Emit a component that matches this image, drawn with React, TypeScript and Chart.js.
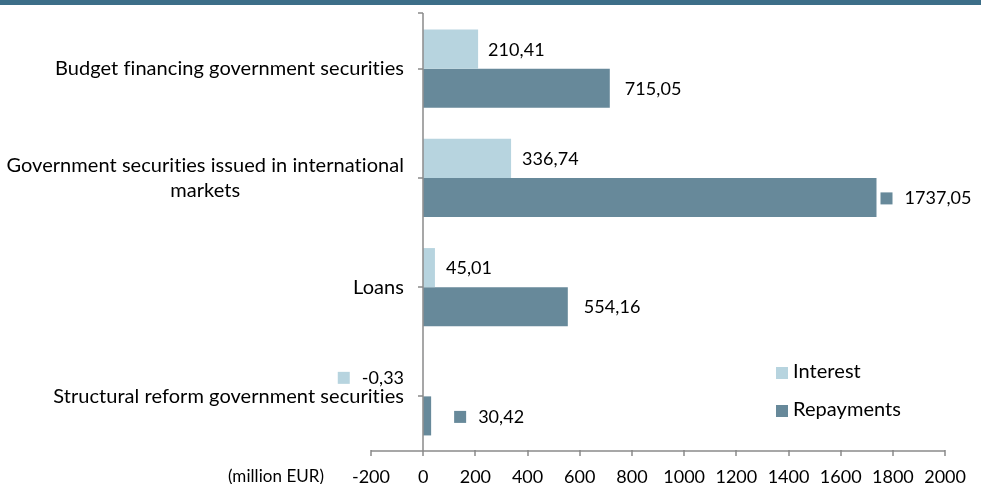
import React, { useEffect, useRef } from 'react';
import { Chart, registerables } from 'chart.js';

Chart.register(...registerables);

// ---- data ----
const categories: string[][] = [
  ['Budget financing government securities'],
  ['Government securities issued in international', 'markets'],
  ['Loans'],
  ['Structural reform government securities'],
];
const seriesNames = ['Interest', 'Repayments'];
const interestValues = [210.41, 336.74, 45.01, -0.33];
const repaymentValues = [715.05, 1737.05, 554.16, 30.42];
const xTickValues = [-200, 0, 200, 400, 600, 800, 1000, 1200, 1400, 1600, 1800, 2000];
const unitLabel = '(million EUR)';

// ---- style ----
const FONT = 'Lato, "Open Sans", sans-serif';
const NUM_SIZE = 18;
const TEXT_SIZE = 20;
const TEXT = '#000000';
const AXIS = '#8a8a8a';
const COLORS = ['#b7d4df', '#67899a'];
const BAND = '#3c6e88';

const fmt = (v: number) => v.toFixed(2).replace('.', ',');

// label placement relative to bar end: dx to text left (or right when align right), key = legend key shown
const placement = [
  [{ dx: 10 }, { dx: 11 }, { dx: 11 }, { dx: -19, right: true, key: true }],
  [{ dx: 15 }, { dx: 28, key: true }, { dx: 16 }, { dx: 47, key: true }],
];

const overlay = {
  id: 'overlay',
  afterDatasetsDraw(chart: any) {
    const ctx: any = chart.ctx;
    const xs = chart.scales.x;
    const ys = chart.scales.y;
    const area = chart.chartArea;
    ctx.save();
    // top band
    ctx.fillStyle = BAND;
    ctx.fillRect(0, 0, chart.width, 5);

    // axes
    ctx.strokeStyle = AXIS;
    ctx.lineWidth = 1.5;
    const x0 = Math.round(xs.getPixelForValue(0));
    const yTop = Math.round(area.top) - 1;
    const yBot = Math.round(area.bottom);
    ctx.beginPath();
    ctx.moveTo(x0, yTop);
    ctx.lineTo(x0, yBot);
    ctx.moveTo(x0 - 5, yTop);
    ctx.lineTo(x0, yTop);
    categories.forEach((_, i) => {
      const y = Math.round(ys.getPixelForValue(i));
      ctx.moveTo(x0 - 5, y);
      ctx.lineTo(x0, y);
    });
    ctx.moveTo(xs.left, yBot);
    ctx.lineTo(xs.right, yBot);
    xTickValues.forEach((v) => {
      const x = Math.round(xs.getPixelForValue(v));
      ctx.moveTo(x, yBot - 1);
      ctx.lineTo(x, yBot + 5);
    });
    ctx.stroke();

    ctx.fillStyle = TEXT;
    ctx.textBaseline = 'middle';
    ctx.letterSpacing = '0.05px';

    // category labels
    ctx.font = `${TEXT_SIZE}px ${FONT}`;
    const rightEdge = x0 - 19;
    const lineH = 25;
    categories.forEach((lines, i) => {
      const cy = ys.getPixelForValue(i);
      const widest = Math.max(...lines.map((l) => ctx.measureText(l).width));
      const cx = rightEdge - widest / 2;
      ctx.textAlign = 'center';
      lines.forEach((l, k) => {
        ctx.fillText(l, cx, cy - ((lines.length - 1) * lineH) / 2 + k * lineH);
      });
    });

    // data labels
    ctx.font = `${NUM_SIZE}px ${FONT}`;
    chart.data.datasets.forEach((ds: any, d: number) => {
      const meta = chart.getDatasetMeta(d);
      meta.data.forEach((el: any, i: number) => {
        const p: any = placement[d][i];
        const text = fmt(ds.data[i]);
        const w = ctx.measureText(text).width;
        const left = p.right ? el.x + p.dx - w : el.x + p.dx;
        ctx.fillStyle = TEXT;
        ctx.textAlign = 'left';
        ctx.fillText(text, left, el.y + 1);
        if (p.key) {
          ctx.fillStyle = COLORS[d];
          ctx.fillRect(left - 24, el.y - 5, 12, 12);
        }
      });
    });

    // legend
    ctx.font = `${TEXT_SIZE}px ${FONT}`;
    seriesNames.forEach((name, d) => {
      const y = 372 + d * 38;
      ctx.fillStyle = COLORS[d];
      ctx.fillRect(776, y - 5, 12, 12);
      ctx.fillStyle = TEXT;
      ctx.textAlign = 'left';
      ctx.fillText(name, 793, y);
    });

    // unit label
    ctx.font = `17px ${FONT}`;
    ctx.fillStyle = TEXT;
    ctx.textAlign = 'center';
    ctx.fillText(unitLabel, 276, 477);
    ctx.restore();
  },
};

export default function App() {
  const ref = useRef<HTMLCanvasElement>(null);
  useEffect(() => {
    document.body.style.margin = '0';
    const canvas = ref.current!;
    const chart = new Chart(canvas, {
      type: 'bar',
      data: {
        labels: categories.map((c) => c.join(' ')),
        datasets: [
          {
            label: seriesNames[0],
            data: interestValues,
            backgroundColor: COLORS[0],
            categoryPercentage: 0.715,
            barPercentage: 1,
          },
          {
            label: seriesNames[1],
            data: repaymentValues,
            backgroundColor: COLORS[1],
            categoryPercentage: 0.715,
            barPercentage: 1,
          },
        ],
      },
      options: {
        indexAxis: 'y',
        animation: false,
        responsive: false,
        maintainAspectRatio: false,
        layout: { padding: { left: 371, right: 30, top: 14, bottom: 0 } },
        plugins: { legend: { display: false }, tooltip: { enabled: false } },
        scales: {
          x: {
            type: 'linear',
            min: -200,
            max: 2000,
            afterBuildTicks: (s: any) => {
              s.ticks = xTickValues.map((v) => ({ value: v }));
            },
            afterFit: (s: any) => {
              s.height = 33;
            },
            grid: { display: false, drawTicks: false },
            border: { display: false },
            ticks: {
              autoSkip: false,
              maxRotation: 0,
              padding: 15,
              color: TEXT,
              font: { family: FONT, size: NUM_SIZE },
              callback: (v: any) => String(v),
            },
          },
          y: { display: false },
        },
      },
      plugins: [overlay],
    });
    return () => chart.destroy();
  }, []);
  return (
    <div style={{ width: 981, height: 484 }}>
      <canvas ref={ref} width={981} height={484} style={{ display: 'block' }} />
    </div>
  );
}
